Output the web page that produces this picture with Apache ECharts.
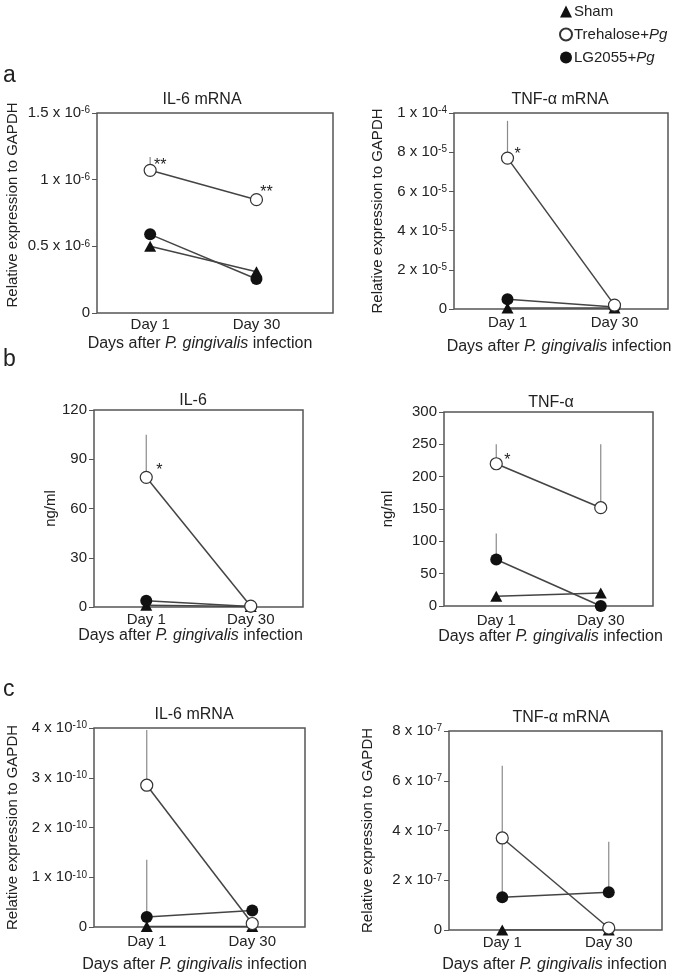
<!DOCTYPE html>
<html><head><meta charset="utf-8">
<script src="https://cdn.jsdelivr.net/npm/echarts@6/dist/echarts.min.js"></script>
<style>html,body{margin:0;padding:0;background:#fff}#c{width:675px;height:977px}</style>
</head><body><div id="c"></div>
<script>
// ---------- DATA ----------
const days = ['Day 1', 'Day 30'];
const groupNames = ['Sham', 'Trehalose+Pg', 'LG2055+Pg'];

// a: gingival mRNA, IL-6
const aIL6Sham = [0.50e-6, 0.31e-6];
const aIL6Tre = [1.07e-6, 0.85e-6];
const aIL6TreErr = [1.17e-6, null];
const aIL6Lg = [0.59e-6, 0.255e-6];
const aIL6Sig = ['**', '**'];
const aIL6Ticks = ['0', '0.5 x 10^-6', '1 x 10^-6', '1.5 x 10^-6'];

// a: gingival mRNA, TNF-α
const aTNFSham = [0.05e-5, 0.05e-5];
const aTNFTre = [7.7e-5, 0.2e-5];
const aTNFTreErr = [9.6e-5, null];
const aTNFLg = [0.5e-5, 0.1e-5];
const aTNFSig = ['*', ''];
const aTNFTicks = ['0', '2 x 10^-5', '4 x 10^-5', '6 x 10^-5', '8 x 10^-5', '1 x 10^-4'];

// b: serum, IL-6 (ng/ml)
const bIL6Sham = [1.0, 0.3];
const bIL6Tre = [79, 0.5];
const bIL6TreErr = [105, null];
const bIL6Lg = [3.8, 0.3];
const bIL6Sig = ['*', ''];
const bIL6Ticks = ['0', '30', '60', '90', '120'];

// b: serum, TNF-α (ng/ml)
const bTNFSham = [15, 20];
const bTNFTre = [220, 152];
const bTNFTreErr = [250, 250];
const bTNFLg = [72, 0];
const bTNFLgErr = [112, null];
const bTNFSig = ['*', ''];
const bTNFTicks = ['0', '50', '100', '150', '200', '250', '300'];

// c: mRNA, IL-6
const cIL6Sham = [0.01e-10, 0.01e-10];
const cIL6Tre = [2.85e-10, 0.07e-10];
const cIL6TreErr = [3.96e-10, null];
const cIL6Lg = [0.2e-10, 0.33e-10];
const cIL6LgErr = [1.35e-10, null];
const cIL6Ticks = ['0', '1 x 10^-10', '2 x 10^-10', '3 x 10^-10', '4 x 10^-10'];

// c: mRNA, TNF-α
const cTNFSham = [0, 0];
const cTNFTre = [3.7e-7, 0.08e-7];
const cTNFTreErr = [6.6e-7, null];
const cTNFLg = [1.32e-7, 1.52e-7];
const cTNFLgErr = [3.7e-7, 3.55e-7];
const cTNFTicks = ['0', '2 x 10^-7', '4 x 10^-7', '6 x 10^-7', '8 x 10^-7'];

// ---------- LAYOUT ----------
const FONT = '"Liberation Sans", Arial, Helvetica, sans-serif';
const TXT = '#222';
const EXPR = 'Relative expression to GAPDH';
const XNAME = 'Days after {i|P. gingivalis} infection';

const panels = [
  {title: 'IL-6 mRNA', yName: EXPR, sham: aIL6Sham, tre: aIL6Tre, treErr: aIL6TreErr, lg: aIL6Lg, sig: aIL6Sig, ticks: aIL6Ticks,
   max: 1.5e-6, interval: 0.5e-6, grid: {left: 97, top: 113, width: 236, height: 200}, xMax: 1.72,
   tx: 202, ty: 101, yGap: 77, yUp: 8, xGap: 23, xShift: -15, lm: 4, sigOff: [[10, -5], [10, -7]]},
  {title: 'TNF-α mRNA', yName: EXPR, sham: aTNFSham, tre: aTNFTre, treErr: aTNFTreErr, lg: aTNFLg, sig: aTNFSig, ticks: aTNFTicks,
   max: 1e-4, interval: 2e-5, grid: {left: 454, top: 113, width: 214, height: 196}, xMax: 1.5,
   tx: 560, ty: 101, yGap: 69, yUp: 0, xGap: 30, xShift: -2, lm: 6, sigOff: [[10, -3], [0, 0]]},
  {title: 'IL-6', yName: 'ng/ml', sham: bIL6Sham, tre: bIL6Tre, treErr: bIL6TreErr, lg: bIL6Lg, sig: bIL6Sig, ticks: bIL6Ticks,
   max: 120, interval: 30, grid: {left: 94, top: 410, width: 209, height: 197}, xMax: 1.5,
   tx: 193, ty: 402, yGap: 34, yUp: 0, xGap: 19, xShift: -8, lm: 5, sigOff: [[13, -7], [0, 0]]},
  {title: 'TNF-α', yName: 'ng/ml', sham: bTNFSham, tre: bTNFTre, treErr: bTNFTreErr, lg: bTNFLg, lgErr: bTNFLgErr, sig: bTNFSig, ticks: bTNFTicks,
   max: 300, interval: 50, grid: {left: 444, top: 412, width: 209, height: 194}, xMax: 1.5,
   tx: 551, ty: 404, yGap: 49, yUp: 0, xGap: 17, xShift: 2, lm: 7, sigOff: [[11, -3], [0, 0]]},
  {title: 'IL-6 mRNA', yName: EXPR, sham: cIL6Sham, tre: cIL6Tre, treErr: cIL6TreErr, lg: cIL6Lg, lgErr: cIL6LgErr, ticks: cIL6Ticks,
   max: 4e-10, interval: 1e-10, grid: {left: 94, top: 728, width: 211, height: 199}, xMax: 1.5,
   tx: 194, ty: 716, yGap: 74, yUp: 0, xGap: 30, xShift: -5, lm: 7, sigOff: [[0, 0], [0, 0]]},
  {title: 'TNF-α mRNA', yName: EXPR, sham: cTNFSham, tre: cTNFTre, treErr: cTNFTreErr, lg: cTNFLg, lgErr: cTNFLgErr, ticks: cTNFTicks,
   max: 8e-7, interval: 2e-7, grid: {left: 449, top: 731, width: 213, height: 199}, xMax: 1.5,
   tx: 561, ty: 719, yGap: 74, yUp: 0, xGap: 27, xShift: -1, lm: 5, sigOff: [[0, 0], [0, 0]]}
];

const grids = [], xAxes = [], yAxes = [], series = [];
const titles = [
  {text: 'a', left: 3, top: 64, padding: 0, textStyle: {fontSize: 23, fontWeight: 'normal', color: TXT, fontFamily: FONT}},
  {text: 'b', left: 3, top: 348, padding: 0, textStyle: {fontSize: 23, fontWeight: 'normal', color: TXT, fontFamily: FONT}},
  {text: 'c', left: 3, top: 678, padding: 0, textStyle: {fontSize: 23, fontWeight: 'normal', color: TXT, fontFamily: FONT}}
];

panels.forEach((p, k) => {
  grids.push(Object.assign({show: true, borderColor: '#555', borderWidth: 1.5, backgroundColor: 'transparent'}, p.grid));
  titles.push({text: p.title, left: p.tx, top: p.ty - 9, textAlign: 'center', padding: 0,
    textStyle: {fontSize: 16, fontWeight: 'normal', color: TXT, fontFamily: FONT}});
  xAxes.push({
    type: 'value', gridIndex: k, min: -0.5, max: p.xMax, interval: 0.5, position: 'bottom',
    axisLine: {show: false, onZero: false}, axisTick: {show: false}, splitLine: {show: false},
    axisLabel: {margin: p.lm, fontSize: 15, color: TXT, fontFamily: FONT, showMinLabel: true, showMaxLabel: true,
      formatter: v => (Number.isInteger(v) && days[v] != null) ? days[v] : ''},
    name: XNAME, nameLocation: 'middle', nameGap: p.xGap,
    nameTextStyle: {fontSize: 16, color: TXT, fontFamily: FONT,
      padding: p.xShift < 0 ? [0, -2 * p.xShift, 0, 0] : [0, 0, 0, 2 * p.xShift],
      rich: {i: {fontStyle: 'italic', fontSize: 16, color: TXT, fontFamily: FONT}}}
  });
  yAxes.push({
    type: 'value', gridIndex: k, min: 0, max: p.max, interval: p.interval, position: 'left',
    axisLine: {show: false, onZero: false}, splitLine: {show: false},
    axisTick: {show: true, inside: false, length: 5, lineStyle: {color: '#555', width: 1}},
    axisLabel: {margin: 7, fontSize: 15, color: TXT, fontFamily: FONT,
      formatter: v => {
        const t = p.ticks[Math.round(v / p.interval)];
        return t == null ? '' : t.replace(/\^(-?\d+)/, '{s|$1}');
      },
      rich: {s: {fontSize: 10, color: TXT, fontFamily: FONT, verticalAlign: 'top', lineHeight: 10}}},
    name: p.yName, nameLocation: 'middle', nameRotate: 90, nameGap: p.yGap,
    nameTextStyle: {fontSize: 15, color: TXT, fontFamily: FONT, padding: [0, 0, 0, 2 * p.yUp]}
  });

  // error bars (upper only)
  const errData = [];
  [[p.sham, p.shamErr], [p.tre, p.treErr], [p.lg, p.lgErr]].forEach(([vals, errs]) => {
    if (!errs) return;
    errs.forEach((e, i) => { if (e != null) errData.push([i, vals[i], e]); });
  });
  series.push({
    type: 'custom', xAxisIndex: k, yAxisIndex: k, z: 1, silent: true,
    data: errData,
    renderItem: (params, api) => {
      const a = api.coord([api.value(0), api.value(1)]);
      const b = api.coord([api.value(0), api.value(2)]);
      return {type: 'line', shape: {x1: a[0], y1: a[1], x2: b[0], y2: b[1]},
        style: {stroke: '#8a8a8a', lineWidth: 1.2}};
    }
  });

  const mk = (vals) => vals.map((v, i) => [i, v]);
  series.push({
    name: groupNames[0], type: 'line', xAxisIndex: k, yAxisIndex: k, z: 3,
    data: mk(p.sham), symbol: 'triangle', symbolSize: [12, 11], showAllSymbol: true,
    lineStyle: {color: '#444', width: 1.5}, itemStyle: {color: '#111'}, animation: false
  });
  series.push({
    name: groupNames[2], type: 'line', xAxisIndex: k, yAxisIndex: k, z: 4,
    data: mk(p.lg), symbol: 'circle', symbolSize: 12, showAllSymbol: true,
    lineStyle: {color: '#444', width: 1.5}, itemStyle: {color: '#111'}, animation: false
  });
  series.push({
    name: groupNames[1], type: 'line', xAxisIndex: k, yAxisIndex: k, z: 5,
    data: p.tre.map((v, i) => {
      const s = p.sig ? p.sig[i] : '';
      const item = {value: [i, v]};
      if (s) item.label = {show: true, formatter: s, position: 'inside', offset: p.sigOff[i],
        fontSize: 16, color: TXT, fontFamily: FONT};
      return item;
    }),
    symbol: 'circle', symbolSize: 12, showAllSymbol: true,
    lineStyle: {color: '#444', width: 1.5},
    itemStyle: {color: '#fff', borderColor: '#333', borderWidth: 1.2}, animation: false
  });
});

const chart = echarts.init(document.getElementById('c'), null, {renderer: 'canvas'});
chart.setOption({
  animation: false,
  backgroundColor: '#fff',
  title: titles,
  legend: {
    orient: 'vertical', left: 554, top: -1, itemWidth: 12, itemHeight: 12, itemGap: 8, selectedMode: false,
    lineStyle: {width: 0, opacity: 0, color: 'rgba(0,0,0,0)'},
    textStyle: {fontSize: 15, color: TXT, fontFamily: FONT, padding: [0, 0, 0, -3],
      rich: {i: {fontStyle: 'italic', fontSize: 15, color: TXT, fontFamily: FONT}}},
    formatter: n => n.replace('+Pg', '+{i|Pg}'),
    data: [{name: 'Sham', icon: 'triangle'}, {name: 'Trehalose+Pg', icon: 'circle'}, {name: 'LG2055+Pg', icon: 'circle'}]
  },
  grid: grids, xAxis: xAxes, yAxis: yAxes, series: series
});
</script></body></html>
